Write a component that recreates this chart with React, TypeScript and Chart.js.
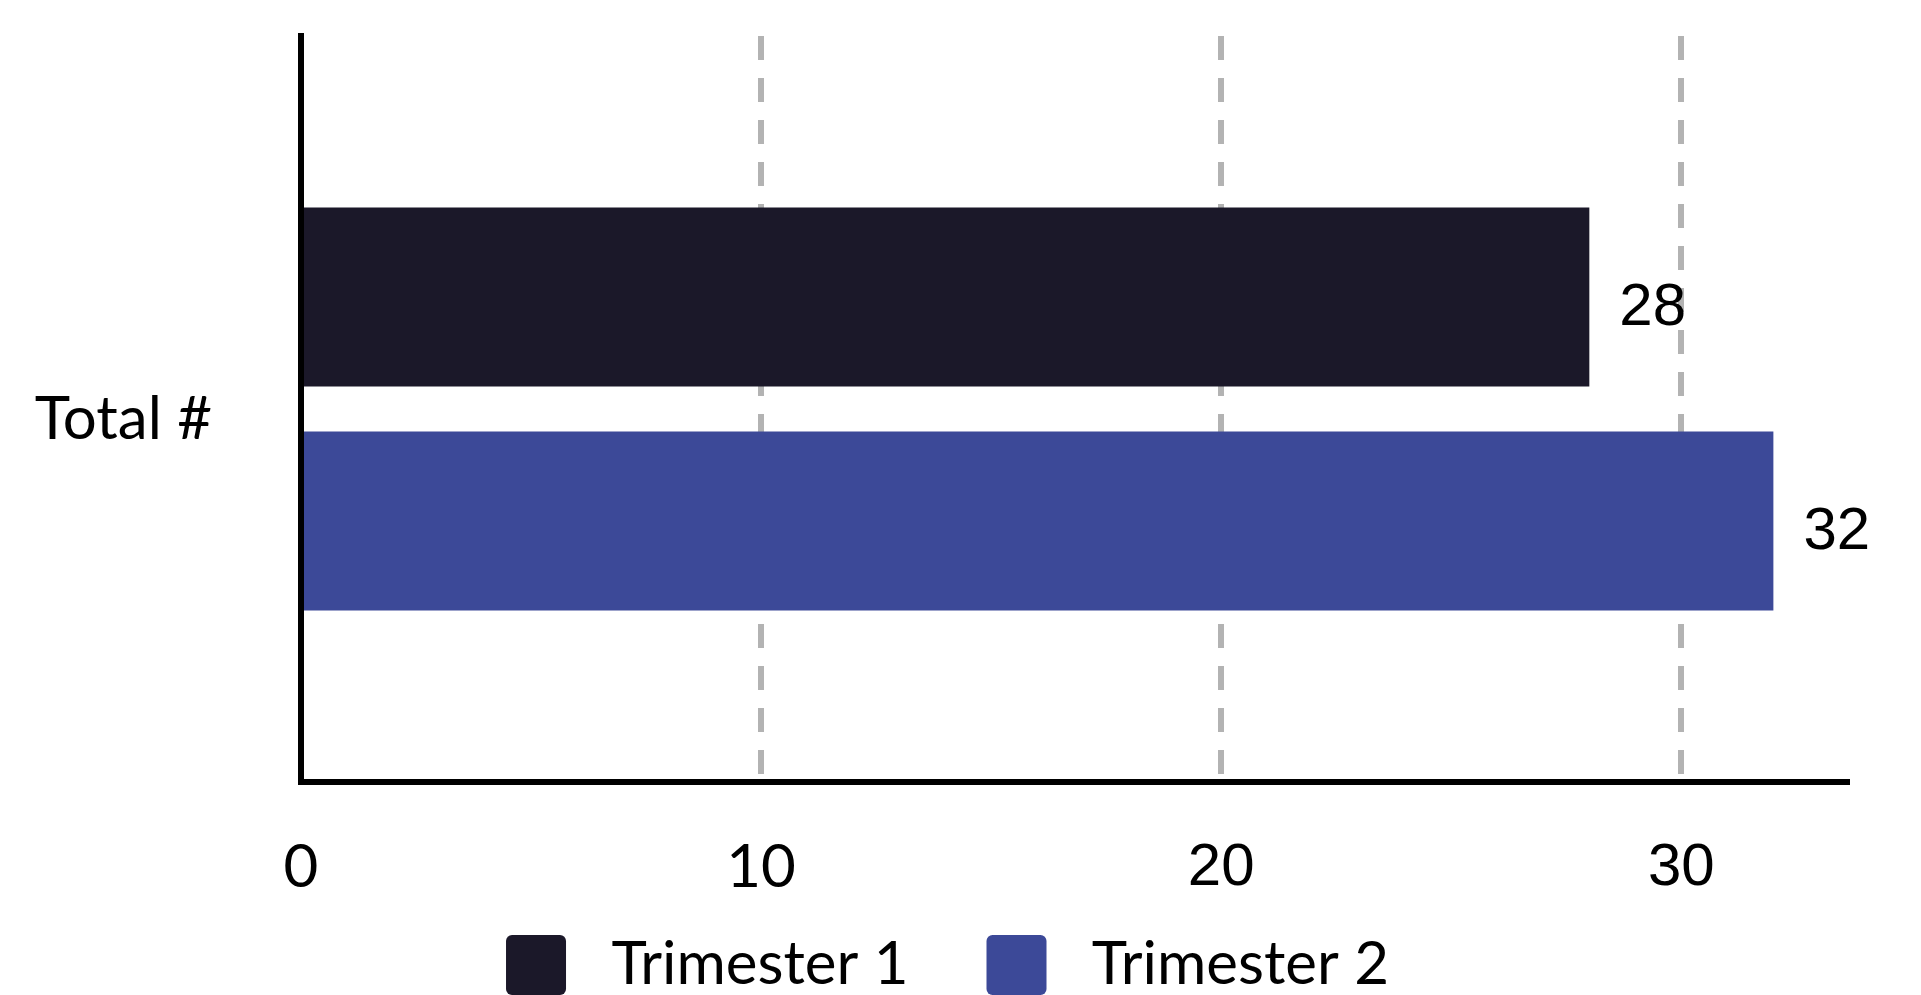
import React, { useEffect, useRef } from "react";
import { Chart, registerables } from "chart.js";

Chart.register(...registerables);

const CATEGORIES = ["Total #"];
const SERIES_NAMES = ["Trimester 1", "Trimester 2"];
const TRIMESTER_1 = [28];
const TRIMESTER_2 = [32];
const SERIES_COLORS = ["#1b1829", "#3c4998"];
const X_TICKS = [0, 10, 20, 30];
const X_MIN = 0;
const X_MAX = 33.6;

const valueLabels = {
  id: "valueLabels",
  afterDatasetsDraw(chart: any) {
    const ctx = chart.ctx;
    ctx.save();
    ctx.font = '60px "Liberation Sans"';
    ctx.fillStyle = "#000";
    ctx.textAlign = "left";
    ctx.textBaseline = "alphabetic";
    chart.data.datasets.forEach((ds: any, di: number) => {
      const meta = chart.getDatasetMeta(di);
      meta.data.forEach((bar: any, i: number) => {
        ctx.fillText(String(ds.data[i]), bar.x + 30, bar.y + 28);
      });
    });
    ctx.restore();
  },
};

// let tick labels spill outside their scale boxes instead of being clipped
const unclipLabels = {
  id: "unclipLabels",
  afterLayout(chart: any) {
    const x = chart.scales.x;
    const y = chart.scales.y;
    if (x) x.bottom = chart.height;
    if (y) y.left = 0;
  },
};

export default function App() {
  const ref = useRef<HTMLCanvasElement>(null);
  useEffect(() => {
    const chart = new Chart(ref.current as HTMLCanvasElement, {
      type: "bar",
      data: {
        labels: CATEGORIES,
        datasets: [
          { label: SERIES_NAMES[0], data: TRIMESTER_1, backgroundColor: SERIES_COLORS[0], borderWidth: 0 },
          { label: SERIES_NAMES[1], data: TRIMESTER_2, backgroundColor: SERIES_COLORS[1], borderWidth: 0 },
        ],
      },
      options: {
        indexAxis: "y",
        responsive: false,
        animation: false,
        devicePixelRatio: 1,
        categoryPercentage: 0.6,
        barPercentage: 0.8,
        layout: { padding: { left: 48, right: 74, top: 36, bottom: 0 } },
        scales: {
          x: {
            type: "linear",
            min: X_MIN,
            max: X_MAX,
            afterBuildTicks(scale: any) {
              scale.ticks = X_TICKS.map((v) => ({ value: v }));
            },
            afterFit(scale: any) {
              scale.height = 75;
              scale.paddingLeft = 0;
              scale.paddingRight = 0;
            },
            grid: { color: "#b3b3b3", lineWidth: 6, drawTicks: false },
            border: { display: true, color: "#000", width: 6, dash: [24, 18] },
            ticks: {
              padding: 50,
              color: "#000",
              font: (c: any) => ({
                family: c.tick && c.tick.value >= 20 ? '"Liberation Sans"' : "Lato",
                size: 60,
              }),
            },
          },
          y: {
            afterFit(scale: any) {
              scale.width = 253;
              scale.paddingTop = 0;
              scale.paddingBottom = 0;
            },
            grid: { display: false, drawTicks: false },
            border: { display: true, color: "#000", width: 6 },
            ticks: { padding: 89, labelOffset: 11, color: "#000", font: { family: "Lato", size: 60 } },
          },
        },
        plugins: {
          tooltip: { enabled: false },
          legend: {
            position: "bottom",
            labels: {
              color: "#000",
              font: { family: "Lato", size: 60 },
              boxWidth: 60,
              boxHeight: 60,
              padding: 78,
              useBorderRadius: true,
              borderRadius: 6,
              generateLabels(ch: any) {
                const items = Chart.defaults.plugins.legend.labels.generateLabels(ch);
                return items.map((it: any) => ({ ...it, text: " " + it.text, lineWidth: 0 }));
              },
            },
          },
        },
      },
      plugins: [valueLabels, unclipLabels],
    } as any);
    return () => chart.destroy();
  }, []);
  return (
    <canvas
      ref={ref}
      width={1921}
      height={1005}
      style={{ position: "fixed", left: 0, top: 0, display: "block", background: "#fff" }}
    />
  );
}
